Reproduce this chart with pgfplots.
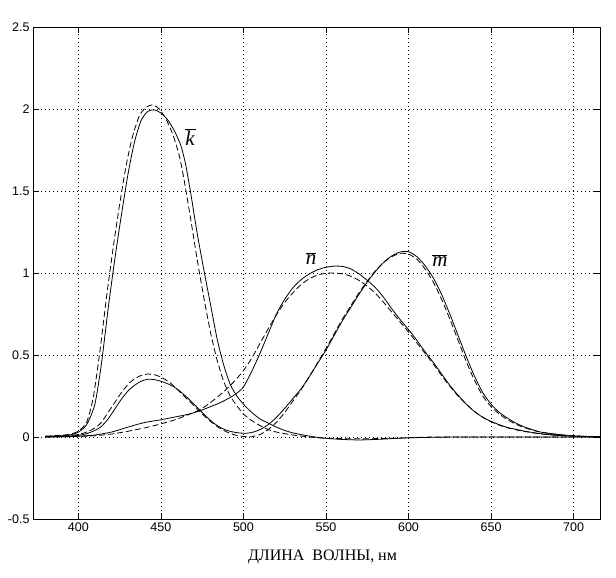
\documentclass[border=0pt]{standalone}
\usepackage{pgfplots}
\pgfplotsset{compat=1.18}
\usepackage{pgfplotstable}
\usepackage{fontspec}
\setmainfont{Liberation Sans}
\newfontfamily\serif{Liberation Serif}

\pgfplotstableread{
x y
380 0.004
390 0.008
395 0.013
400 0.03
405 0.075
410 0.2
414 0.45
418 0.78
422 1.08
426 1.35
430 1.6
434 1.8
438 1.93
442 1.985
446 1.995
450 1.975
454 1.935
458 1.87
462 1.78
465 1.66
468 1.49
472 1.24
476 1.02
480 0.81
484 0.6
488 0.44
492 0.32
496 0.25
500 0.2
505 0.15
510 0.11
515 0.085
520 0.06
525 0.04
530 0.025
540 0.005
550 -0.008
560 -0.015
570 -0.018
580 -0.015
590 -0.01
600 -0.005
620 -0.001
640 0
720 0
}\ksolid

\pgfplotstableread{
x y
380 0.005
390 0.011
395 0.017
400 0.036
405 0.09
409 0.24
413 0.52
417 0.85
421 1.15
425 1.42
429 1.66
433 1.84
437 1.96
441 2.01
445 2.025
449 2.0
453 1.94
457 1.85
461 1.72
464 1.57
468 1.33
472 1.08
476 0.85
480 0.64
484 0.47
488 0.34
492 0.25
496 0.19
500 0.14
505 0.1
510 0.07
515 0.045
520 0.03
530 0.012
540 0.0
550 -0.008
560 -0.01
580 -0.01
600 -0.005
620 0
720 0
}\kdash

\pgfplotstableread{
x y
380 0.002
390 0.004
400 0.01
405 0.02
410 0.04
414 0.065
418 0.11
422 0.17
426 0.23
430 0.28
434 0.315
438 0.34
442 0.352
446 0.35
450 0.34
454 0.325
458 0.305
462 0.275
466 0.24
470 0.2
474 0.16
478 0.12
482 0.085
486 0.058
490 0.04
494 0.03
498 0.024
502 0.023
506 0.03
510 0.045
515 0.075
520 0.12
525 0.175
530 0.235
535 0.295
540 0.37
545 0.45
550 0.53
555 0.62
560 0.71
565 0.79
570 0.87
575 0.945
580 1.01
585 1.065
590 1.105
595 1.128
600 1.13
605 1.1
610 1.045
615 0.97
620 0.87
625 0.75
630 0.62
635 0.49
640 0.37
645 0.27
650 0.2
655 0.15
660 0.115
665 0.085
670 0.062
675 0.045
680 0.03
690 0.016
700 0.007
710 0.003
720 0.001
}\msolid

\pgfplotstableread{
x y
380 0.003
390 0.006
400 0.015
405 0.03
410 0.055
414 0.09
418 0.15
422 0.21
426 0.27
430 0.32
434 0.355
438 0.375
442 0.384
446 0.38
450 0.365
455 0.335
460 0.29
465 0.24
470 0.19
475 0.14
480 0.095
485 0.058
490 0.03
495 0.012
500 0.003
505 0.002
510 0.015
515 0.045
520 0.09
525 0.15
530 0.22
535 0.29
540 0.37
545 0.455
550 0.54
555 0.63
560 0.72
565 0.8
570 0.88
575 0.95
580 1.015
585 1.065
590 1.1
595 1.12
600 1.115
605 1.085
610 1.025
615 0.945
620 0.84
625 0.72
630 0.59
635 0.46
640 0.345
645 0.25
650 0.185
655 0.14
660 0.105
665 0.078
670 0.058
675 0.042
680 0.03
690 0.015
700 0.007
710 0.003
720 0.001
}\mdash

\pgfplotstableread{
x y
380 0.0
390 0.002
400 0.005
410 0.012
420 0.03
430 0.06
435 0.075
440 0.088
445 0.097
450 0.105
455 0.115
460 0.125
465 0.135
470 0.148
475 0.165
480 0.185
485 0.205
490 0.23
495 0.26
500 0.305
505 0.4
510 0.51
515 0.63
520 0.75
525 0.84
530 0.91
535 0.96
540 0.995
545 1.02
550 1.035
555 1.042
560 1.04
565 1.025
570 0.995
575 0.955
580 0.91
585 0.85
590 0.78
595 0.715
600 0.655
605 0.59
610 0.52
615 0.455
620 0.385
625 0.315
630 0.255
635 0.2
640 0.155
645 0.12
650 0.095
655 0.075
660 0.058
665 0.047
670 0.036
680 0.02
690 0.01
700 0.005
710 0.002
720 0.001
}\nsolid

\pgfplotstableread{
x y
380 0.0
390 0.001
400 0.003
410 0.008
420 0.018
430 0.035
440 0.055
450 0.08
460 0.11
470 0.15
475 0.175
480 0.21
485 0.25
490 0.295
495 0.345
500 0.405
505 0.48
510 0.57
515 0.66
520 0.745
525 0.82
530 0.88
535 0.93
540 0.965
545 0.988
550 0.998
555 1.0
560 0.995
565 0.98
570 0.955
575 0.92
580 0.875
585 0.82
590 0.76
595 0.7
600 0.64
605 0.575
610 0.51
615 0.445
620 0.375
625 0.31
630 0.25
635 0.2
640 0.155
645 0.12
650 0.093
655 0.072
660 0.056
665 0.044
670 0.034
680 0.019
690 0.01
700 0.005
710 0.002
720 0.001
}\ndash

\begin{document}
\begin{tikzpicture}
\begin{axis}[
  scale only axis, width=567pt, height=492pt,
  xmin=372.5, xmax=716, ymin=-0.5, ymax=2.5,
  xtick={400,450,500,550,600,650,700},
  ytick={-0.5,0,0.5,1,1.5,2,2.5},
  yticklabels={-0.5,0,0.5,1,1.5,2,2.5},
  xticklabels={400,450,500,550,600,650,700},
  tick align=inside, tick pos=both, major tick length=6pt,
  grid=major,
  grid style={black, line width=0.6pt, dash pattern=on 0.7pt off 3.3pt},
  axis line style={line width=0.9pt},
  every tick/.style={black, line width=0.8pt},
  tick label style={font=\fontsize{12.5}{14}\selectfont},
  xlabel={\serif ДЛИНА\ \ ВОЛНЫ, нм},
  xlabel style={font=\fontsize{16}{19}\selectfont, yshift=-12pt, xshift=6pt},
  sol/.style={black, no marks, line width=0.8pt, smooth, tension=0.4},
  das/.style={black, no marks, line width=0.8pt, smooth, tension=0.4, dash pattern=on 6pt off 3pt},
]
\addplot[sol] table {\ksolid};
\addplot[das] table {\kdash};
\addplot[sol] table {\msolid};
\addplot[das] table {\mdash};
\addplot[sol] table {\nsolid};
\addplot[das] table {\ndash};
\node[font=\fontsize{21}{24}\selectfont] at (axis cs:468,1.83) {$\overline{\mbox{\serif\itshape k\kern1pt}}$};
\node[font=\fontsize{21}{24}\selectfont] at (axis cs:541,1.09) {$\overline{\mbox{\serif\itshape n}}$};
\node[font=\fontsize{21}{24}\selectfont] at (axis cs:619,1.075) {$\overline{\mbox{\serif\itshape m}}$};
\coordinate (sw) at (rel axis cs:0,0);
\coordinate (ne) at (rel axis cs:1,1);
\end{axis}
\pgfresetboundingbox
\path[use as bounding box] ([shift={(-33pt,-59pt)}]sw) rectangle ([shift={(16pt,27pt)}]ne);
\end{tikzpicture}
\end{document}
